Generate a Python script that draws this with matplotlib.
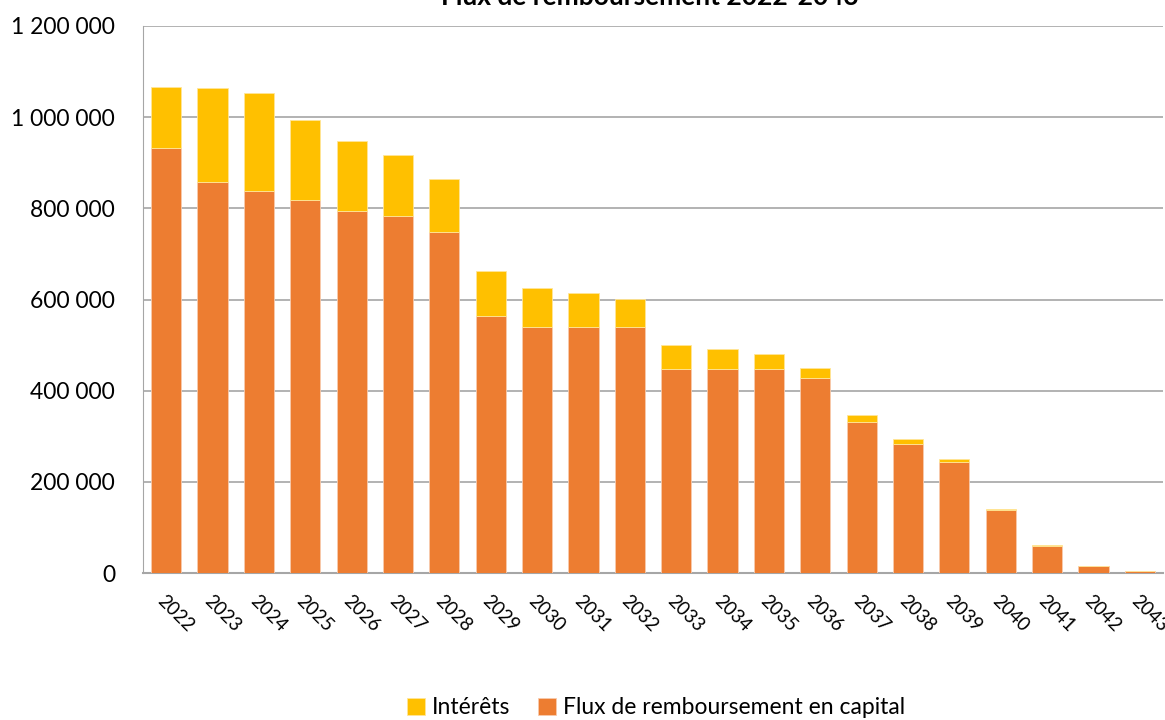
import matplotlib.pyplot as plt
import numpy as np

plt.rcParams['font.family'] = ['Lato', 'DejaVu Sans']

# années et flux (en euros)
annees = [str(a) for a in range(2022, 2044)]
capital = [932000, 858000, 838000, 818000, 794000, 783000, 749000, 563000,
           539000, 539000, 539000, 448000, 448000, 448000, 428000, 332000,
           284000, 243000, 138000, 60000, 14500, 4500]
total = [1067000, 1065000, 1054000, 993000, 947000, 916000, 864000, 663000,
         626000, 615000, 602000, 501000, 491000, 481000, 450000, 347000,
         294000, 249000, 140000, 61000, 15300, 5000]
interets = [t - c for t, c in zip(total, capital)]

y_ticks = [0, 200000, 400000, 600000, 800000, 1000000, 1200000]
y_labels = ['{:,}'.format(v).replace(',', ' ') for v in y_ticks]

fig = plt.figure(figsize=(11.65, 7.2), dpi=100)
ax = fig.add_axes([143 / 1165, 1 - 573 / 720, 1020 / 1165, 547 / 720])

x = np.arange(len(annees))
ax.bar(x, capital, width=0.65, color='#ED7D31', edgecolor='#F8CBAD',
       linewidth=0.6, label='Flux de remboursement en capital', zorder=3)
ax.bar(x, interets, bottom=capital, width=0.65, color='#FFC000',
       edgecolor='#FFE699', linewidth=0.6, label='Intérêts', zorder=3)

ax.set_xlim(-0.5, len(annees) - 0.5)
ax.set_ylim(0, 1200000)
ax.set_yticks(y_ticks)
ax.set_yticklabels(y_labels, fontsize=16.5)
ax.yaxis.grid(True, color='#A6A6A6', linewidth=1.2, zorder=0)
ax.tick_params(axis='y', length=0, pad=20)

ax.set_xticks(x)
ax.set_xticklabels(annees, fontsize=13.5, rotation=-45, ha='left', va='top',
                   rotation_mode='anchor')
ax.tick_params(axis='x', length=0, pad=14)

for side in ['top', 'right']:
    ax.spines[side].set_visible(False)
ax.spines['left'].set_color('#A6A6A6')
ax.spines['bottom'].set_color('#A6A6A6')
ax.spines['bottom'].set_linewidth(1.5)

fig.text(650 / 1165, 1 - 5 / 720, 'Flux de remboursement 2022-2043',
         fontsize=19, fontweight='bold', ha='center', va='baseline')

handles, labels = ax.get_legend_handles_labels()
fig.legend(handles[::-1], labels[::-1], loc='center', ncol=2,
           bbox_to_anchor=(656 / 1165, 1 - 708 / 720), frameon=False,
           fontsize=16.5, handlelength=0.8, handleheight=0.8,
           handletextpad=0.3, columnspacing=1.2)

fig.savefig('out.png', dpi=100)
